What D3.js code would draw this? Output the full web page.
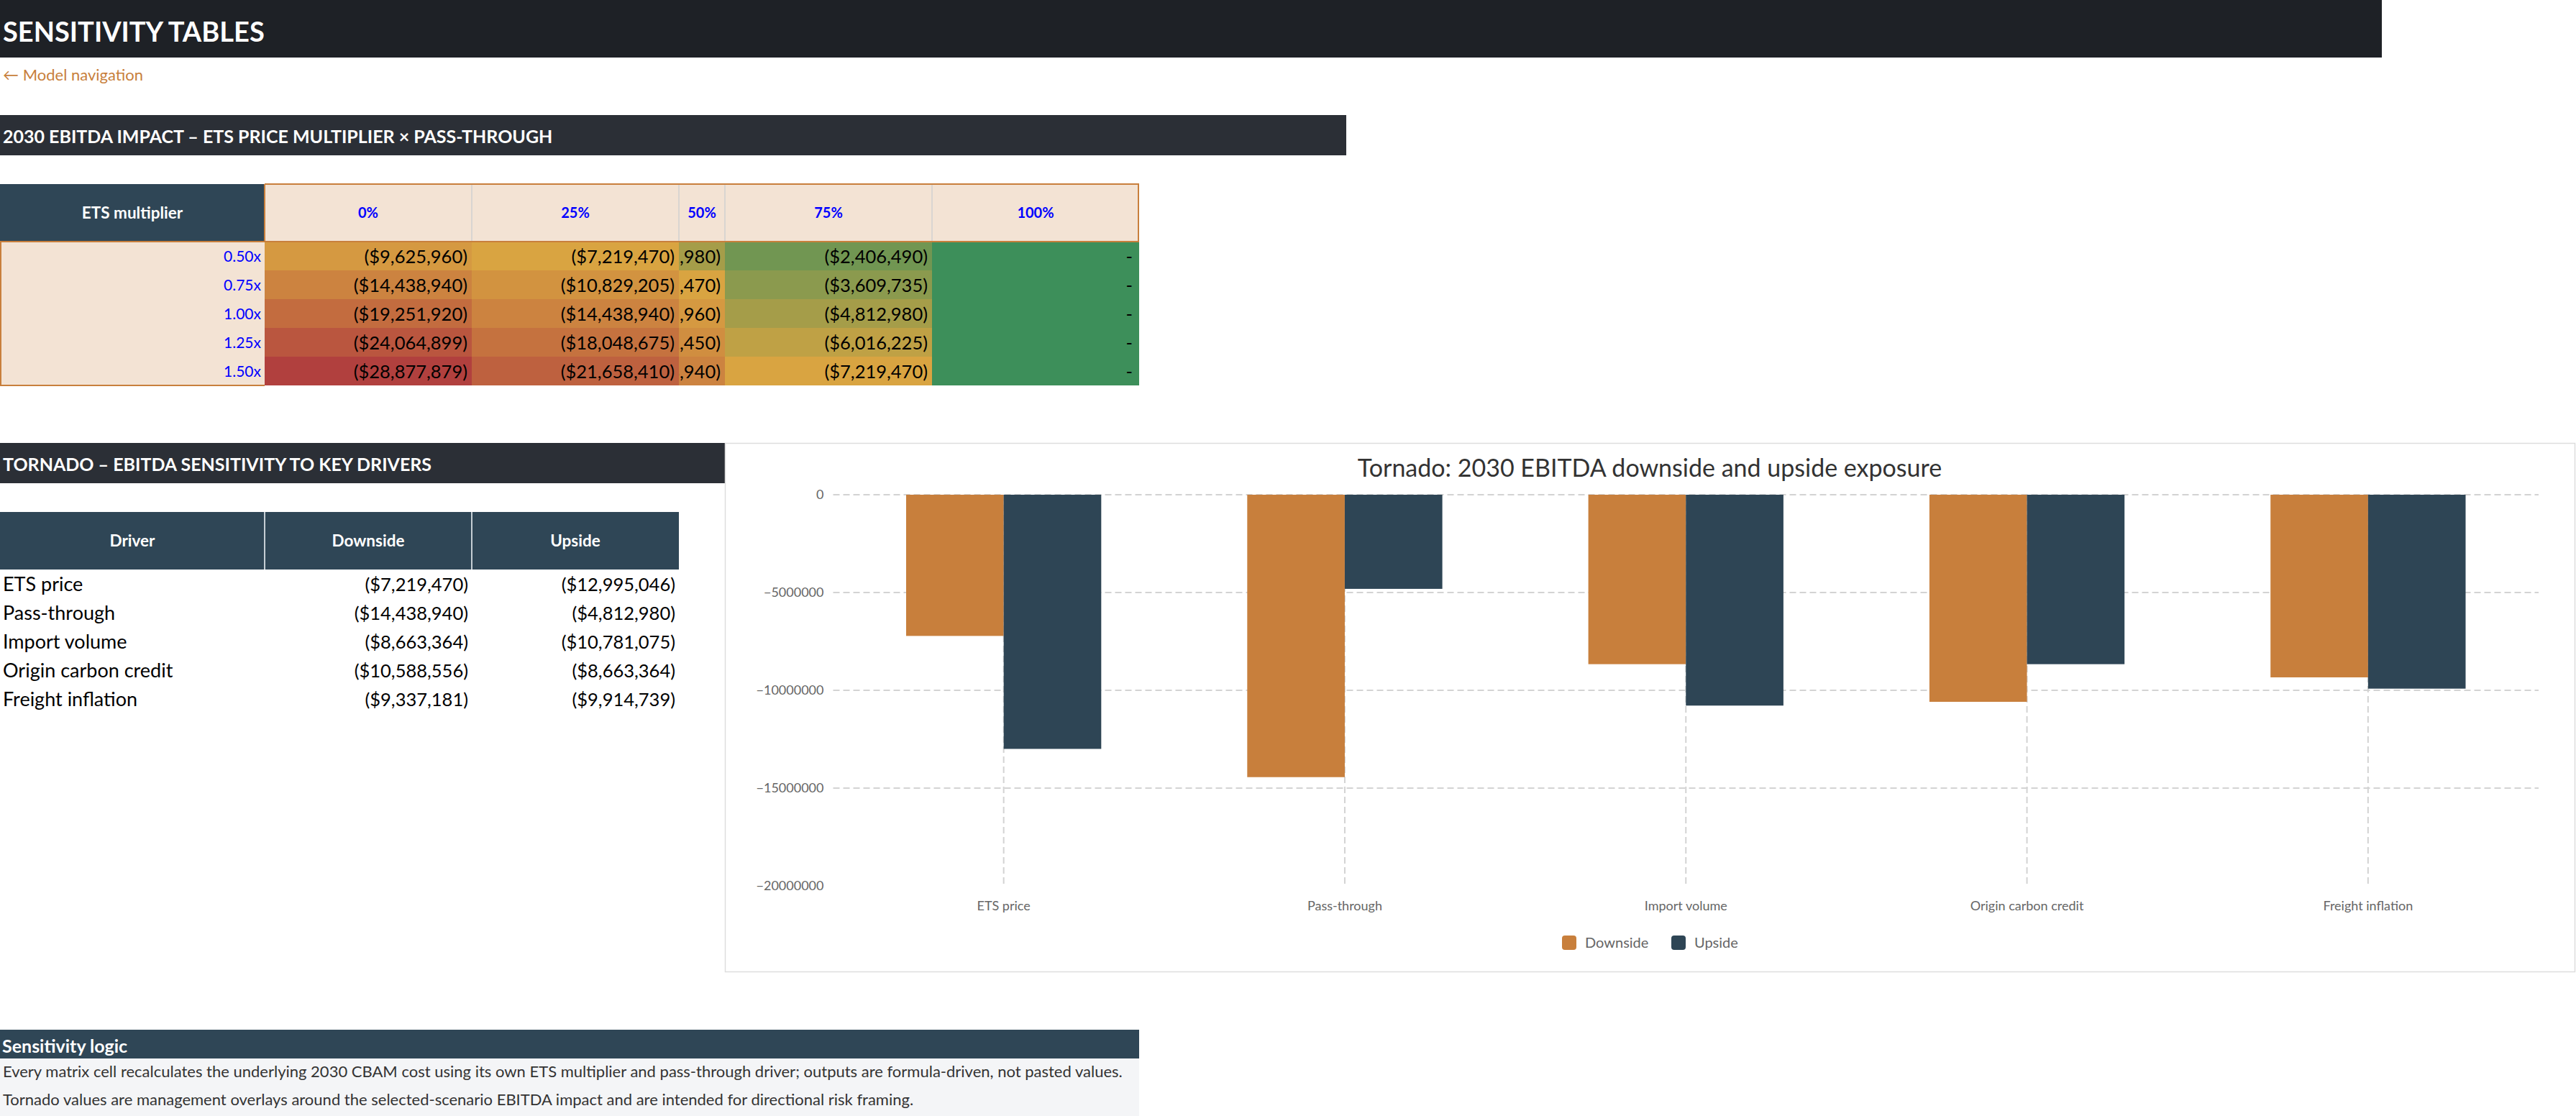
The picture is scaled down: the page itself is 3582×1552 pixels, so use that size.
<!DOCTYPE html>
<html>
<head>
<meta charset="utf-8">
<script src="https://cdn.jsdelivr.net/npm/d3@7"></script>
<style>
  body { margin: 0; background: #fff; }
  svg { display: block; font-family: "Lato", "Open Sans", sans-serif; }
</style>
</head>
<body>
<svg id="sheet" width="3582" height="1552"></svg>
<script>
// matrix: pass-through columns x ETS multiplier rows
const passThrough = ["0%", "25%", "50%", "75%", "100%"];
const etsMultipliers = ["0.50x", "0.75x", "1.00x", "1.25x", "1.50x"];
const impact0 = [-9625960, -14438940, -19251920, -24064899, -28877879];
const impact25 = [-7219470, -10829205, -14438940, -18048675, -21658410];
const impact50 = [-4812980, -7219470, -9625960, -12032450, -14438940];
const impact75 = [-2406490, -3609735, -4812980, -6016225, -7219470];
const impact100 = [0, 0, 0, 0, 0];

// tornado
const drivers = ["ETS price", "Pass-through", "Import volume", "Origin carbon credit", "Freight inflation"];
const downside = [-7219470, -14438940, -8663364, -10588556, -9337181];
const upside = [-12995046, -4812980, -10781075, -8663364, -9914739];
const seriesNames = ["Downside", "Upside"];
const yTicks = [0, -5000000, -10000000, -15000000, -20000000];

const notes = [
  "Every matrix cell recalculates the underlying 2030 CBAM cost using its own ETS multiplier and pass-through driver; outputs are formula-driven, not pasted values.",
  "Tornado values are management overlays around the selected-scenario EBITDA impact and are intended for directional risk framing."
];

const slate = "#2e4555", orange = "#c87f3c", peach = "#f3e3d4";

const svg = d3.select("#sheet");

const money = v => v === 0 ? "-" : "($" + d3.format(",")(Math.abs(v)) + ")";

// page title + nav
svg.append("rect").attr("x", 0).attr("y", 0).attr("width", 3312).attr("height", 80).attr("fill", "#1e2126");
svg.append("text").attr("x", 4).attr("y", 58).attr("fill", "#fff")
  .attr("font-size", 38).attr("font-weight", 700).text("SENSITIVITY TABLES");
svg.append("text").attr("x", 4).attr("y", 112).attr("fill", orange)
  .attr("font-size", 22).text("\u2190 Model navigation");

function sectionBar(y, w, label) {
  svg.append("rect").attr("x", 0).attr("y", y).attr("width", w).attr("height", 56).attr("fill", "#2b2f36");
  svg.append("text").attr("x", 4).attr("y", y + 39).attr("fill", "#fff")
    .attr("font-size", 25).attr("font-weight", 700).text(label);
}
sectionBar(160, 1872, "2030 EBITDA IMPACT \u2013 ETS PRICE MULTIPLIER \u00d7 PASS-THROUGH");
sectionBar(616, 1008, "TORNADO \u2013 EBITDA SENSITIVITY TO KEY DRIVERS");

// ---------- matrix ----------
const matrix = [impact0, impact25, impact50, impact75, impact100];
const colWidths = [368, 288, 288, 64, 288, 288];
const colX = colWidths.reduce((a, w) => { a.push(a[a.length - 1] + w); return a; }, [0]);
const mTop = 256, mHead = 80;
const rowY = d3.scaleBand().domain(etsMultipliers).range([mTop + mHead, mTop + mHead + 200]);

const allVals = matrix.flat();
const heat = d3.scaleLinear()
  .domain([d3.min(allVals), d3.median(allVals), d3.max(allVals)])
  .range(["#b1403e", "#d9a441", "#3d8f5a"]);

const m = svg.append("g");
// header
m.append("rect").attr("x", 0).attr("y", mTop).attr("width", colWidths[0]).attr("height", mHead).attr("fill", "#2f4656");
m.append("text").attr("x", colWidths[0] / 2).attr("y", mTop + mHead / 2).attr("dy", "0.35em")
  .attr("text-anchor", "middle").attr("fill", "#fff").attr("font-size", 22.5).attr("font-weight", 700)
  .text("ETS multiplier");
passThrough.forEach((p, j) => {
  m.append("rect").attr("x", colX[j + 1]).attr("y", mTop).attr("width", colWidths[j + 1]).attr("height", mHead)
    .attr("fill", peach);
  m.append("text").attr("x", colX[j + 1] + colWidths[j + 1] / 2).attr("y", mTop + mHead / 2).attr("dy", "0.35em")
    .attr("text-anchor", "middle").attr("fill", "#0000ff").attr("font-size", 20).attr("font-weight", 700).text(p);
  if (j > 0) {
    m.append("line").attr("x1", colX[j + 1]).attr("x2", colX[j + 1]).attr("y1", mTop + 1).attr("y2", mTop + mHead)
      .attr("stroke", "#d0d0d0").attr("stroke-width", 1.5);
  }
});
// label column
m.append("rect").attr("x", 0).attr("y", mTop + mHead).attr("width", colWidths[0]).attr("height", 200).attr("fill", peach);
etsMultipliers.forEach(r => {
  m.append("text").attr("x", colWidths[0] - 5).attr("y", rowY(r) + rowY.bandwidth() / 2).attr("dy", "0.4em")
    .attr("text-anchor", "end").attr("fill", "#0000ff").attr("font-size", 21).text(r);
});
// cells
const defs = svg.append("defs");
matrix.forEach((col, j) => {
  const cx = colX[j + 1], cw = colWidths[j + 1];
  defs.append("clipPath").attr("id", "clip" + j).append("rect")
    .attr("x", cx).attr("y", mTop + mHead).attr("width", cw).attr("height", 200);
  const g = m.append("g").attr("clip-path", `url(#clip${j})`);
  col.forEach((v, i) => {
    const y0 = rowY(etsMultipliers[i]);
    g.append("rect").attr("x", cx).attr("y", y0).attr("width", cw).attr("height", rowY.bandwidth()).attr("fill", heat(v));
    g.append("text").attr("x", cx + cw - (v === 0 ? 9 : 6)).attr("y", y0 + rowY.bandwidth() / 2).attr("dy", "0.4em")
      .attr("text-anchor", "end").attr("fill", "#000").attr("font-size", 25.5).text(money(v));
  });
});
// orange borders
const ob = (x1, y1, x2, y2) => m.append("line").attr("x1", x1).attr("y1", y1).attr("x2", x2).attr("y2", y2)
  .attr("stroke", orange).attr("stroke-width", 2);
ob(colWidths[0], mTop, colX[6], mTop);
ob(colWidths[0], mTop, colWidths[0], mTop + mHead);
ob(colX[6] - 1, mTop, colX[6] - 1, mTop + mHead);
ob(0, mTop + mHead, colX[6], mTop + mHead);
ob(1, mTop + mHead, 1, mTop + mHead + 200);
ob(0, mTop + mHead + 200, colWidths[0], mTop + mHead + 200);

// ---------- driver table ----------
const tTop = 712;
const tCols = [0, 368, 656, 944];
const tRow = d3.scaleBand().domain(drivers).range([tTop + 80, tTop + 80 + 200]);
const t = svg.append("g");
t.append("rect").attr("x", 0).attr("y", tTop).attr("width", 944).attr("height", 80).attr("fill", "#2f4656");
["Driver", "Downside", "Upside"].forEach((h, j) => {
  t.append("text").attr("x", (tCols[j] + tCols[j + 1]) / 2).attr("y", tTop + 40).attr("dy", "0.35em")
    .attr("text-anchor", "middle").attr("fill", "#fff").attr("font-size", 22.5).attr("font-weight", 700).text(h);
  if (j > 0) t.append("line").attr("x1", tCols[j]).attr("x2", tCols[j]).attr("y1", tTop).attr("y2", tTop + 80)
    .attr("stroke", "#c5ced4").attr("stroke-width", 2);
});
drivers.forEach((d, i) => {
  const cy = tRow(d) + tRow.bandwidth() / 2;
  t.append("text").attr("x", 4).attr("y", cy).attr("dy", "0.38em").attr("font-size", 27).attr("fill", "#000").text(d);
  t.append("text").attr("x", tCols[2] - 5).attr("y", cy).attr("dy", "0.4em").attr("text-anchor", "end")
    .attr("font-size", 25.5).attr("fill", "#000").text(money(downside[i]));
  t.append("text").attr("x", tCols[3] - 5).attr("y", cy).attr("dy", "0.4em").attr("text-anchor", "end")
    .attr("font-size", 25.5).attr("fill", "#000").text(money(upside[i]));
});

// ---------- tornado chart ----------
const box = { x: 1008, y: 616, w: 2572, h: 735 };
const c = svg.append("g");
c.append("rect").attr("x", box.x + 0.5).attr("y", box.y + 0.5).attr("width", box.w).attr("height", box.h)
  .attr("fill", "#fff").attr("stroke", "#dddddd").attr("stroke-width", 1.5);
c.append("text").attr("x", box.x + box.w / 2).attr("y", 663).attr("text-anchor", "middle")
  .attr("font-size", 34).attr("fill", "#333").text("Tornado: 2030 EBITDA downside and upside exposure");

const x0 = d3.scaleBand().domain(drivers).range([1158.5, 3530]);
const x1 = d3.scaleBand().domain(seriesNames)
  .range([x0.bandwidth() * 0.214, x0.bandwidth() * 0.786]);
const y = d3.scaleLinear().domain([0, -20000000]).range([688, 1232]);
const color = d3.scaleOrdinal().domain(seriesNames).range([orange, slate]);

// horizontal split lines
c.append("g").selectAll("line").data(yTicks.slice(0, -1)).join("line")
  .attr("x1", x0.range()[0]).attr("x2", x0.range()[1])
  .attr("y1", d => y(d)).attr("y2", d => y(d))
  .attr("stroke", "#d3d3d3").attr("stroke-width", 2).attr("stroke-dasharray", "9,5");
// vertical split lines at category centres
c.append("g").selectAll("line").data(drivers).join("line")
  .attr("x1", d => x0(d) + x0.bandwidth() / 2).attr("x2", d => x0(d) + x0.bandwidth() / 2)
  .attr("y1", y(0)).attr("y2", y(-20000000))
  .attr("stroke", "#d3d3d3").attr("stroke-width", 2).attr("stroke-dasharray", "9,5");

const rows = drivers.map((d, i) => ({ driver: d, values: [downside[i], upside[i]] }));
c.append("g").selectAll("g").data(rows).join("g")
  .attr("transform", d => `translate(${x0(d.driver)},0)`)
  .selectAll("rect").data(d => seriesNames.map((s, k) => ({ s, v: d.values[k] }))).join("rect")
  .attr("x", d => x1(d.s)).attr("width", x1.bandwidth())
  .attr("y", y(0)).attr("height", d => y(d.v) - y(0))
  .attr("fill", d => color(d.s));

const yAxis = c.append("g").attr("transform", `translate(${x0.range()[0]},0)`)
  .call(d3.axisLeft(y).tickValues(yTicks).tickSize(0).tickPadding(13).tickFormat(d3.format("d")));
yAxis.select(".domain").remove();
yAxis.selectAll("text").attr("font-family", "Lato, sans-serif").attr("font-size", 18).attr("fill", "#666");

const xAxis = c.append("g").attr("transform", `translate(0,${y(-20000000)})`)
  .call(d3.axisBottom(x0).tickSize(0).tickPadding(21));
xAxis.select(".domain").remove();
xAxis.selectAll("text").attr("font-family", "Lato, sans-serif").attr("font-size", 18).attr("fill", "#666");

// legend
const legendX = d3.scaleOrdinal().domain(seriesNames).range([2172, 2324]);
const lg = c.append("g").selectAll("g").data(seriesNames).join("g")
  .attr("transform", d => `translate(${legendX(d)},1301)`);
lg.append("rect").attr("width", 20).attr("height", 20).attr("rx", 4).attr("fill", d => color(d));
lg.append("text").attr("x", 32).attr("y", 16.5).attr("font-size", 20).attr("fill", "#666").text(d => d);

// ---------- notes ----------
svg.append("rect").attr("x", 0).attr("y", 1432).attr("width", 1584).attr("height", 40).attr("fill", "#2f4656");
svg.append("text").attr("x", 3).attr("y", 1464).attr("fill", "#fff").attr("font-size", 25).attr("font-weight", 700)
  .text("Sensitivity logic");
svg.append("rect").attr("x", 0).attr("y", 1472).attr("width", 1584).attr("height", 80).attr("fill", "#f4f5f7");
svg.selectAll("text.note").data(notes).join("text").attr("class", "note")
  .attr("x", 4).attr("y", (d, i) => 1498 + i * 39).attr("font-size", 22).attr("fill", "#333").text(d => d);
</script>
</body>
</html>
